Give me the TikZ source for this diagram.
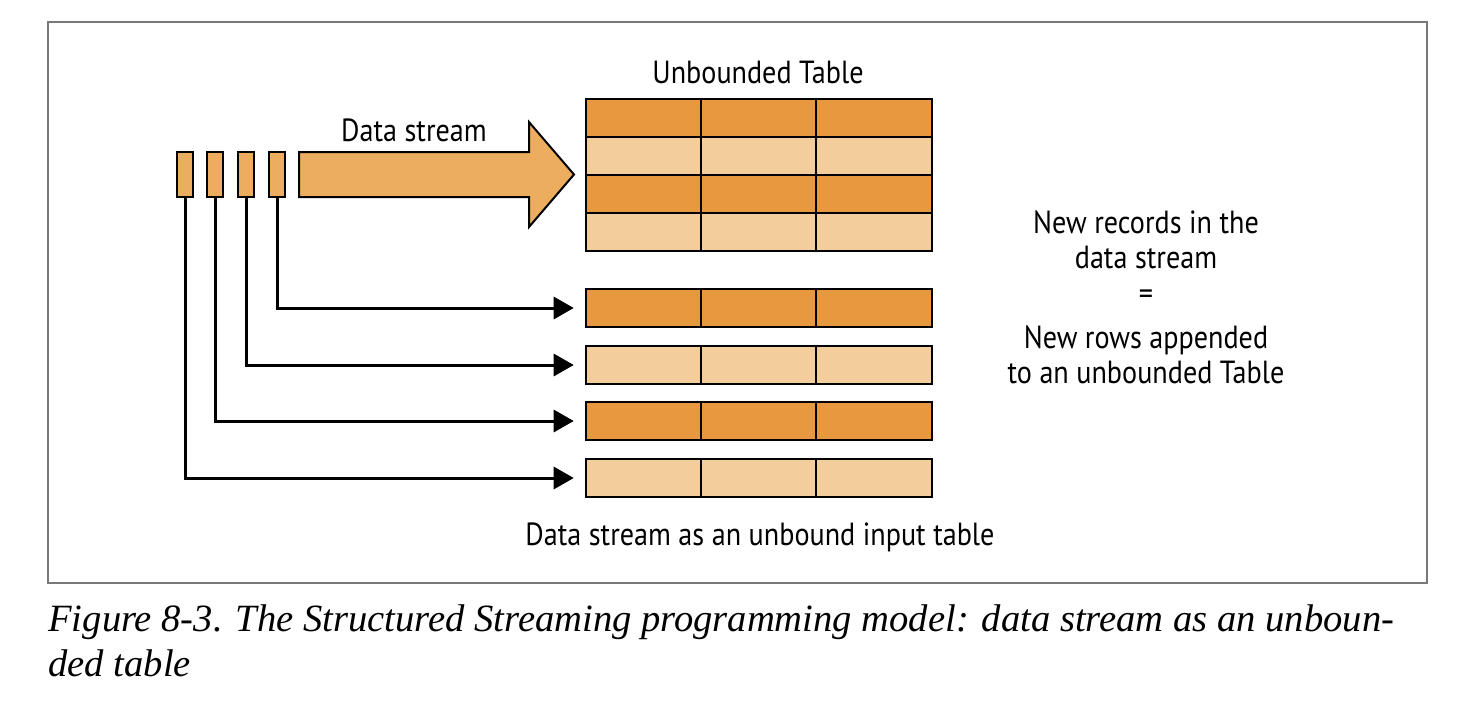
\documentclass[tikz,border=0pt]{standalone}
\usepackage{fontspec}
\setmainfont{Liberation Serif}
\newfontfamily\labelfont{PT Sans}[FakeStretch=0.88]
\usetikzlibrary{arrows.meta,positioning}

\definecolor{darkrow}{RGB}{232,152,62}
\definecolor{lightrow}{RGB}{243,205,155}
\definecolor{streamfill}{RGB}{237,173,94}
\definecolor{framegray}{RGB}{120,120,120}

\tikzset{
  cell/.style={draw=black, line width=1pt, minimum width=57.67pt, minimum height=19pt, inner sep=0pt, outer sep=0pt},
  record/.style={draw=black, line width=1pt, fill=streamfill, minimum width=8pt, minimum height=22.5pt, inner sep=0pt, outer sep=0pt},
  feed/.style={line width=1.5pt, -{Triangle[length=10pt,width=11pt]}, shorten >=6pt},
  label/.style={font=\labelfont\fontsize{16}{17.5}\selectfont, inner sep=0pt, align=center}
}

\begin{document}
\begin{tikzpicture}[x=0.5pt,y=-0.5pt]
\useasboundingbox (0,0) rectangle (1478,718);

% Frame
\draw[framegray, line width=0.75pt] (48,22) rectangle (1427,583);

% Stream records
\foreach \x [count=\i] in {185,215,246,277}
  \node[record] (s\i) at (\x,174) {};

% Big arrow
\filldraw[fill=streamfill, draw=black, line width=1pt, line join=miter]
  (299,152) -- (529,152) -- (529,122) -- (574,174.5) -- (529,227) -- (529,197) -- (299,197) -- cycle;
\node[label] (streamlbl) at (414,130) {Data stream};

% Unbounded table
\foreach \y/\col [count=\r] in {118/darkrow,156/lightrow,194/darkrow,232/lightrow}
  \foreach \x [count=\c] in {643.4,758.7,874}
    \node[cell, fill=\col] (u\r\c) at (\x,\y) {};
\node[label] (tablelbl) at (758,72) {Unbounded Table};

% Input rows
\foreach \y/\col [count=\r] in {308/darkrow,365/lightrow,421/darkrow,478/lightrow}
  \foreach \x [count=\c] in {643.4,758.7,874}
    \node[cell, fill=\col] (l\r\c) at (\x,\y) {};
\node[label] (inputlbl) at (760,537) {Data stream as an unbound input table};

% Records to rows
\draw[feed] (s4.south) |- (l11.west);
\draw[feed] (s3.south) |- (l21.west);
\draw[feed] (s2.south) |- (l31.west);
\draw[feed] (s1.south) |- (l41.west);

% Right text
\node[label] (newrec) at (1146,240) {New records in the\\data stream};
\node[label] (eq) at (1146,297) {=};
\node[label] (newrows) at (1146,355) {New rows appended\\to an unbounded Table};

% Caption
\node[anchor=base west, inner sep=0pt, font=\itshape\fontsize{19.3}{22}\selectfont] (cap1) at (48,631)
  {Figure 8-3. The Structured Streaming programming model: data stream as an unboun-};
\node[anchor=base west, inner sep=0pt, font=\itshape\fontsize{19.3}{22}\selectfont] (cap2) at (48,676)
  {ded table};
\end{tikzpicture}
\end{document}
